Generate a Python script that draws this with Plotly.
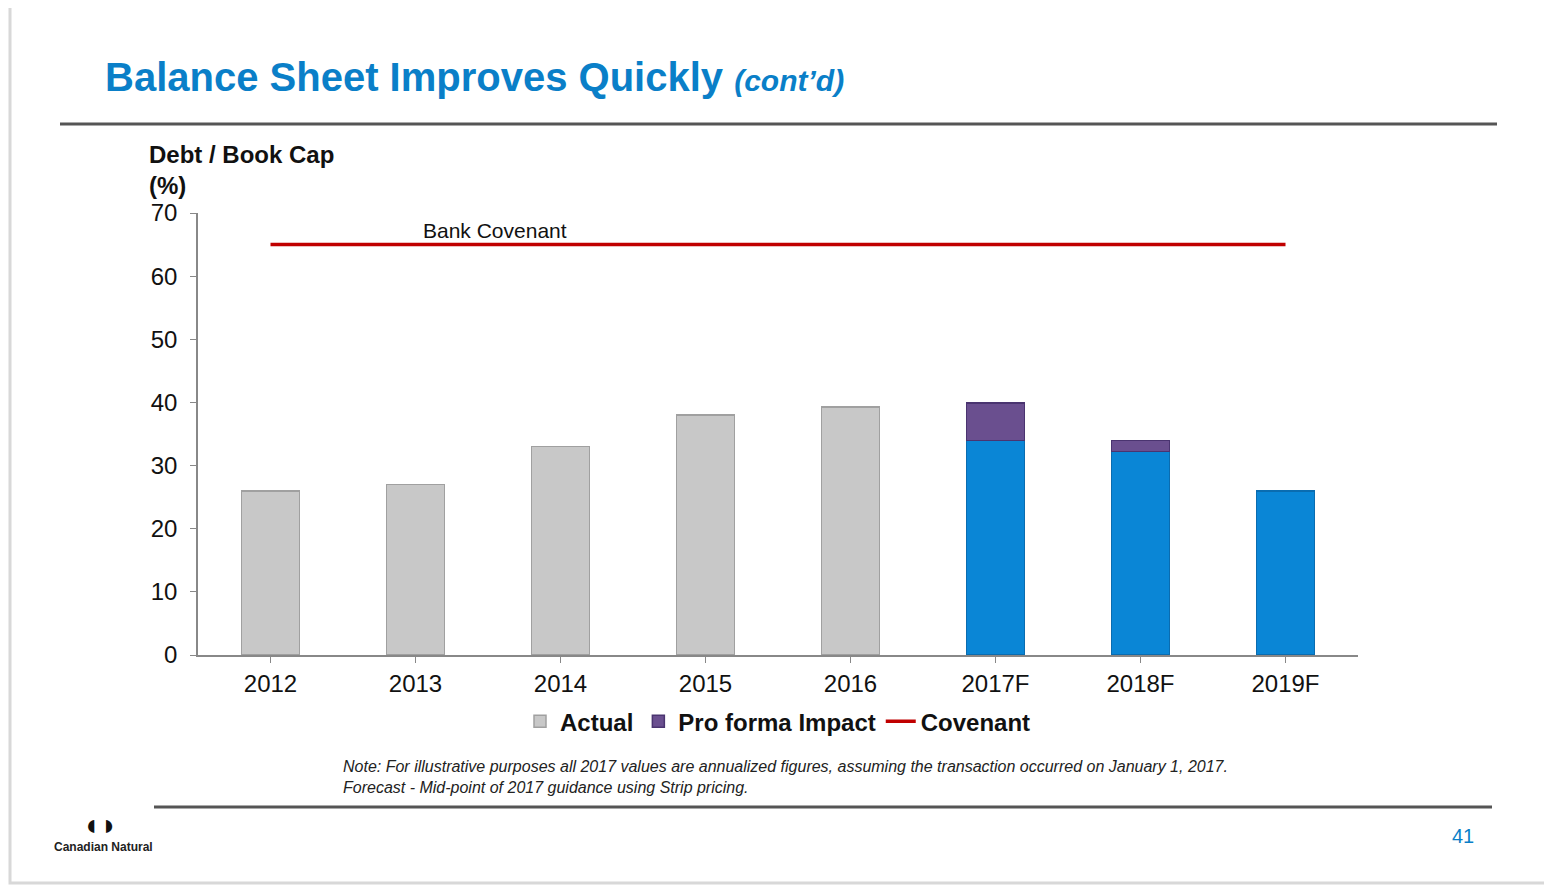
import plotly.graph_objects as go

years = ["2012", "2013", "2014", "2015", "2016", "2017F", "2018F", "2019F"]
actual = [26, 27, 33, 38, 39.3, None, None, None]
forecast = [None, None, None, None, None, 34, 32.2, 26]
proforma = [None, None, None, None, None, 5.9, 1.8, None]
covenant = [65] * 8

fig = go.Figure()
fig.add_bar(x=years, y=actual, name="<b>Actual</b>", marker=dict(color="#c8c8c8", line=dict(color="#a0a0a0", width=1.5)), width=0.4)
fig.add_bar(x=years, y=forecast, name="Forecast", showlegend=False, marker=dict(color="#0a86d6", line=dict(color="#0a6cb0", width=1.5)), width=0.4)
fig.add_bar(x=years, y=proforma, name="<b>Pro forma Impact</b>", marker=dict(color="#6a4f8f", line=dict(color="#4a3470", width=1.5)), width=0.4)
fig.add_scatter(x=years, y=covenant, mode="lines", name="<b>Covenant</b>", line=dict(color="#c00000", width=3.5))

W, H = 1552, 885
fig.update_layout(
    width=W, height=H, barmode="stack", plot_bgcolor="white", paper_bgcolor="white",
    margin=dict(l=190, r=W - 1350, t=205, b=H - 647),
    font=dict(family="Liberation Sans, Arial", color="#111"),
    showlegend=True,
    legend=dict(orientation="h", x=0.5, xanchor="center", y=-0.1, yanchor="top",
                font=dict(size=24, color="#111", family="Liberation Sans, Arial"), traceorder="normal"),
    xaxis=dict(showline=True, linecolor="#888", linewidth=1.5, ticks="outside", ticklen=6, tickcolor="#888",
               tickfont=dict(size=24), range=[-0.5, 7.5]),
    yaxis=dict(range=[0, 70], dtick=10, showgrid=False, showline=True, linecolor="#888", linewidth=1.5,
               ticks="outside", ticklen=6, tickcolor="#888", tickfont=dict(size=24), zeroline=False,
               ticklabelstandoff=8),
    shapes=[
        dict(type="rect", xref="paper", yref="paper", x0=-(190-2)/1160, x1=(1540-190)/1160,
             y0=-(875-647)/442, y1=(647+2)/442, line=dict(color="#d8d8d8", width=3)),
        dict(type="line", xref="paper", yref="paper", x0=(60-198)/1160, x1=(1497-198)/1160,
             y0=(655-124)/442, y1=(655-124)/442, line=dict(color="#555", width=3)),
        dict(type="line", xref="paper", yref="paper", x0=(154-198)/1160, x1=(1492-198)/1160,
             y0=-(807-655)/442, y1=-(807-655)/442, line=dict(color="#555", width=3)),
    ],
    annotations=[
        dict(xref="paper", yref="paper", x=(103-198)/1160, y=(655-77)/442, xanchor="left", yanchor="middle",
             showarrow=False, text="<b>Balance Sheet Improves Quickly</b> <b><i><span style='font-size:30px'>(cont’d)</span></i></b>",
             font=dict(size=40, color="#0a7fc8")),
        dict(xref="paper", yref="paper", x=(147-198)/1160, y=(655-170)/442, xanchor="left", yanchor="middle",
             showarrow=False, align="left", text="<b>Debt / Book Cap<br>(%)</b>", font=dict(size=24, color="#111")),
        dict(xref="paper", yref="paper", x=(421-198)/1160, y=(655-230)/442, xanchor="left", yanchor="middle",
             showarrow=False, text="Bank Covenant", font=dict(size=21, color="#111")),
        dict(xref="paper", yref="paper", x=(341-198)/1160, y=-(777-655)/442, xanchor="left", yanchor="middle",
             showarrow=False, align="left",
             text="<i>Note: For illustrative purposes all 2017 values are annualized figures, assuming the transaction occurred on January 1, 2017.<br>Forecast - Mid-point of 2017 guidance using Strip pricing.</i>",
             font=dict(size=16, color="#222")),
        dict(xref="paper", yref="paper", x=(1463-198)/1160, y=-(836-655)/442, xanchor="center", yanchor="middle",
             showarrow=False, text="41", font=dict(size=20, color="#0a7fc8")),
        dict(xref="paper", yref="paper", x=(103-198)/1160, y=-(847-655)/442, xanchor="center", yanchor="middle",
             showarrow=False, text="<b>Canadian Natural</b>", font=dict(size=12, color="#222")),
        dict(xref="paper", yref="paper", x=(100-198)/1160, y=-(824-655)/442, xanchor="center", yanchor="middle",
             showarrow=False, text="<b>◖◗</b>", font=dict(size=30, color="#111")),
    ],
)
fig.write_html("out.html")
